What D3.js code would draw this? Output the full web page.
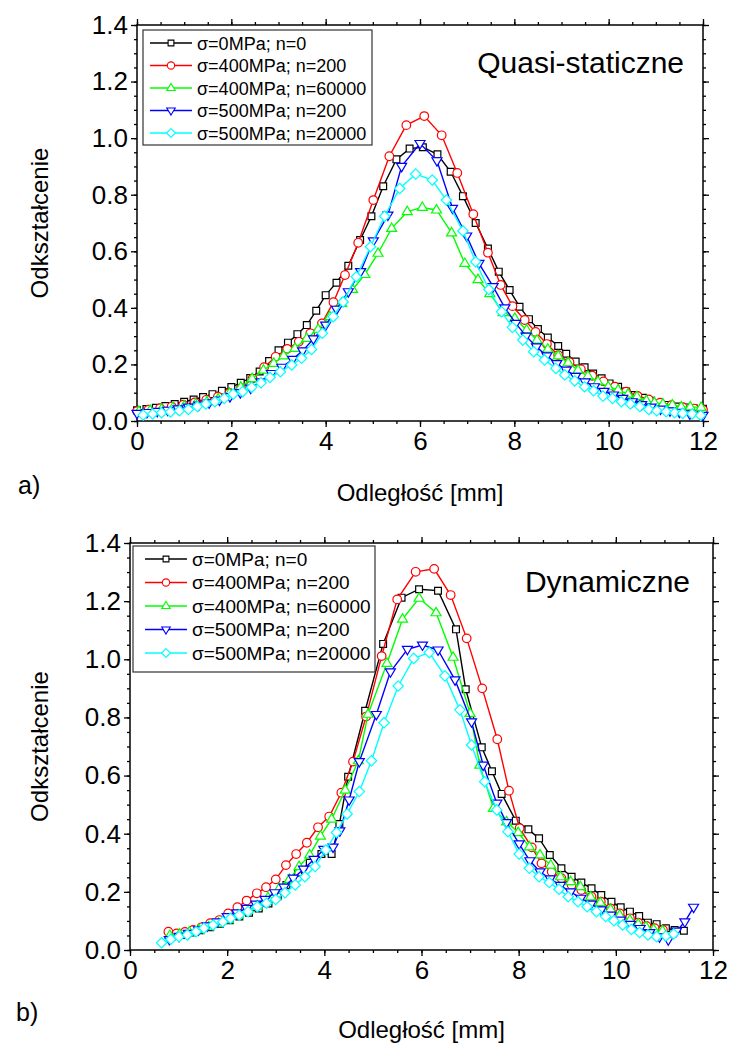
<!DOCTYPE html>
<html>
<head>
<meta charset="utf-8">
<script src="https://cdn.jsdelivr.net/npm/d3@7"></script>
<style>
  body { margin: 0; background: #fff; overflow: hidden; }
  text { font-family: "Liberation Sans", Arial, sans-serif; fill: #000; }
</style>
</head>
<body>
<script>
// ---------- DATA ----------
const seriesNames = ["σ=0MPa; n=0", "σ=400MPa; n=200", "σ=400MPa; n=60000", "σ=500MPa; n=200", "σ=500MPa; n=20000"];
const seriesColors = ["#000000", "#ff0000", "#00ff00", "#0000ff", "#00ffff"];
const seriesSymbols = ["square", "circle", "triUp", "triDown", "diamond"];

const xTicks = [0, 2, 4, 6, 8, 10, 12];
const yTicks = [0.0, 0.2, 0.4, 0.6, 0.8, 1.0, 1.2, 1.4];

// a) Quasi-statyczne  [x mm, strain]
const quasiS0 = [[0,0.038],[0.2,0.042],[0.4,0.047],[0.6,0.053],[0.8,0.060],[1.0,0.068],[1.2,0.076],[1.4,0.085],[1.6,0.095],[1.8,0.107],[2.0,0.120],[2.2,0.135],[2.4,0.152],[2.6,0.175],[2.8,0.212],[3.0,0.250],[3.2,0.277],[3.4,0.307],[3.6,0.339],[3.8,0.390],[4.0,0.445],[4.23,0.489],[4.48,0.549],[4.73,0.640],[4.97,0.724],[5.22,0.830],[5.5,0.925],[5.78,0.963],[6.06,0.968],[6.37,0.943],[6.65,0.881],[6.91,0.795],[7.18,0.700],[7.44,0.610],[7.67,0.528],[7.9,0.463],[8.11,0.404],[8.31,0.360],[8.5,0.325],[8.71,0.295],[8.93,0.265],[9.1,0.238],[9.3,0.210],[9.49,0.190],[9.67,0.168],[9.85,0.151],[10.02,0.133],[10.2,0.121],[10.37,0.104],[10.55,0.092],[10.73,0.082],[10.9,0.072],[11.07,0.062],[11.26,0.057],[11.44,0.051],[11.62,0.048],[11.8,0.045],[12.0,0.043]];
const quasiS1 = [[0,0.035],[0.245,0.040],[0.49,0.045],[0.735,0.051],[0.98,0.058],[1.225,0.066],[1.47,0.075],[1.715,0.086],[1.96,0.099],[2.205,0.116],[2.45,0.150],[2.695,0.190],[2.94,0.227],[3.185,0.255],[3.43,0.280],[3.675,0.310],[3.92,0.345],[4.165,0.420],[4.41,0.516],[4.69,0.630],[5.01,0.781],[5.35,0.936],[5.71,1.046],[6.09,1.078],[6.46,1.010],[6.79,0.877],[7.13,0.731],[7.44,0.595],[7.71,0.481],[7.96,0.406],[8.22,0.357],[8.45,0.315],[8.69,0.272],[8.93,0.233],[9.17,0.208],[9.41,0.183],[9.65,0.160],[9.89,0.140],[10.13,0.121],[10.37,0.104],[10.61,0.089],[10.85,0.076],[11.09,0.065],[11.33,0.056],[11.57,0.049],[11.81,0.044],[12.0,0.040]];
const quasiS2 = [[0.04,0.034],[0.28,0.038],[0.52,0.042],[0.76,0.047],[1.0,0.053],[1.24,0.060],[1.48,0.068],[1.72,0.078],[1.96,0.098],[2.2,0.120],[2.44,0.150],[2.68,0.180],[2.9,0.204],[3.11,0.230],[3.35,0.257],[3.6,0.292],[3.84,0.324],[4.09,0.369],[4.34,0.416],[4.57,0.465],[4.83,0.518],[5.11,0.593],[5.4,0.681],[5.73,0.740],[6.05,0.755],[6.35,0.746],[6.67,0.665],[6.95,0.557],[7.23,0.500],[7.48,0.450],[7.76,0.383],[8.01,0.363],[8.26,0.322],[8.48,0.286],[8.71,0.254],[8.93,0.230],[9.14,0.206],[9.35,0.180],[9.56,0.159],[9.77,0.139],[9.99,0.121],[10.2,0.110],[10.41,0.095],[10.6,0.086],[10.8,0.072],[10.97,0.065],[11.15,0.060],[11.35,0.057],[11.54,0.050],[11.73,0.050],[11.96,0.048]];
const quasiS3 = [[0.0,0.027],[0.21,0.030],[0.43,0.034],[0.65,0.038],[0.87,0.043],[1.09,0.049],[1.31,0.056],[1.53,0.064],[1.75,0.074],[1.97,0.086],[2.19,0.100],[2.41,0.116],[2.63,0.138],[2.85,0.168],[3.07,0.190],[3.3,0.218],[3.51,0.248],[3.74,0.290],[4.0,0.339],[4.23,0.395],[4.48,0.457],[4.74,0.528],[5.01,0.637],[5.32,0.728],[5.61,0.900],[6.0,0.981],[6.36,0.920],[6.69,0.752],[6.99,0.654],[7.25,0.557],[7.55,0.475],[7.8,0.400],[8.03,0.345],[8.25,0.300],[8.47,0.262],[8.69,0.230],[8.9,0.203],[9.1,0.180],[9.3,0.158],[9.5,0.138],[9.7,0.121],[9.9,0.105],[10.1,0.092],[10.3,0.080],[10.5,0.068],[10.7,0.058],[10.9,0.049],[11.1,0.042],[11.3,0.036],[11.5,0.031],[11.72,0.025],[12.0,0.020]];
const quasiS4 = [[0.13,0.021],[0.33,0.025],[0.52,0.029],[0.71,0.032],[0.9,0.036],[1.09,0.041],[1.28,0.051],[1.46,0.060],[1.65,0.068],[1.85,0.080],[2.04,0.095],[2.24,0.104],[2.43,0.119],[2.63,0.135],[2.82,0.154],[3.04,0.174],[3.28,0.198],[3.49,0.222],[3.7,0.253],[3.93,0.310],[4.16,0.369],[4.37,0.421],[4.65,0.510],[4.95,0.616],[5.25,0.724],[5.57,0.822],[5.91,0.873],[6.26,0.852],[6.56,0.781],[6.91,0.672],[7.18,0.563],[7.46,0.465],[7.73,0.386],[7.96,0.331],[8.18,0.286],[8.41,0.245],[8.64,0.216],[8.88,0.186],[9.07,0.163],[9.28,0.142],[9.49,0.121],[9.68,0.107],[9.88,0.088],[10.08,0.080],[10.27,0.068],[10.46,0.060],[10.66,0.051],[10.85,0.041],[11.02,0.036],[11.22,0.033],[11.4,0.029],[11.57,0.027],[11.77,0.025],[11.95,0.020]];

// b) Dynamiczne
const dynS0 = [[0.85,0.045],[1.05,0.052],[1.25,0.060],[1.45,0.068],[1.65,0.078],[1.85,0.090],[2.05,0.102],[2.25,0.115],[2.45,0.128],[2.65,0.143],[2.85,0.160],[3.04,0.185],[3.22,0.224],[3.46,0.266],[3.7,0.300],[3.94,0.330],[4.15,0.330],[4.31,0.433],[4.49,0.596],[4.84,0.823],[5.21,1.053],[5.59,1.212],[5.95,1.241],[6.34,1.236],[6.71,1.103],[6.91,0.897],[7.24,0.697],[7.45,0.615],[7.65,0.537],[7.94,0.445],[8.2,0.415],[8.42,0.384],[8.64,0.327],[8.88,0.281],[9.09,0.252],[9.29,0.232],[9.5,0.212],[9.7,0.189],[9.91,0.166],[10.1,0.147],[10.29,0.132],[10.48,0.117],[10.66,0.094],[10.84,0.089],[11.03,0.075],[11.21,0.069],[11.4,0.066]];
const dynS1 = [[0.79,0.063],[0.96,0.057],[1.13,0.062],[1.3,0.069],[1.47,0.078],[1.65,0.092],[1.84,0.103],[2.02,0.126],[2.21,0.147],[2.4,0.170],[2.61,0.195],[2.8,0.216],[3.0,0.243],[3.21,0.292],[3.42,0.330],[3.64,0.369],[3.87,0.422],[4.1,0.459],[4.35,0.541],[4.59,0.648],[4.86,0.803],[5.18,1.011],[5.5,1.206],[5.88,1.301],[6.26,1.311],[6.6,1.221],[6.93,1.072],[7.25,0.900],[7.56,0.725],[7.8,0.548],[8.02,0.419],[8.27,0.353],[8.47,0.298],[8.68,0.269],[8.88,0.247],[9.09,0.224],[9.29,0.206],[9.5,0.183],[9.69,0.166],[9.89,0.143],[10.08,0.126],[10.29,0.109],[10.46,0.094],[10.63,0.083],[10.8,0.075],[10.97,0.069]];
const dynS2 = [[0.82,0.050],[1.02,0.055],[1.22,0.062],[1.42,0.070],[1.62,0.080],[1.82,0.092],[2.02,0.105],[2.22,0.120],[2.42,0.135],[2.62,0.152],[2.84,0.180],[3.07,0.212],[3.28,0.243],[3.48,0.287],[3.7,0.327],[3.92,0.392],[4.15,0.450],[4.43,0.550],[4.7,0.651],[4.9,0.811],[5.29,0.986],[5.61,1.138],[5.95,1.210],[6.3,1.160],[6.65,1.007],[7.0,0.814],[7.2,0.636],[7.48,0.487],[7.75,0.441],[7.99,0.404],[8.22,0.355],[8.44,0.327],[8.66,0.292],[8.86,0.252],[9.07,0.235],[9.27,0.218],[9.48,0.183],[9.68,0.163],[9.89,0.140],[10.08,0.120],[10.29,0.103],[10.46,0.089],[10.62,0.080],[10.78,0.071],[10.96,0.066]];
const dynS3 = [[0.81,0.036],[1.01,0.047],[1.2,0.057],[1.41,0.069],[1.59,0.083],[1.8,0.097],[2.0,0.115],[2.2,0.128],[2.4,0.143],[2.59,0.158],[2.78,0.174],[2.98,0.197],[3.17,0.216],[3.36,0.247],[3.57,0.278],[3.79,0.312],[3.99,0.346],[4.18,0.354],[4.32,0.410],[4.51,0.516],[4.72,0.648],[5.07,0.810],[5.36,0.957],[5.71,1.034],[6.02,1.049],[6.34,1.032],[6.69,0.929],[7.03,0.785],[7.27,0.636],[7.55,0.505],[7.75,0.438],[8.01,0.365],[8.23,0.307],[8.44,0.269],[8.65,0.245],[8.86,0.222],[9.07,0.200],[9.28,0.178],[9.49,0.158],[9.7,0.138],[9.9,0.120],[10.1,0.103],[10.3,0.088],[10.5,0.074],[10.7,0.060],[10.9,0.045],[11.08,0.035],[11.25,0.065],[11.42,0.097],[11.6,0.147]];
const dynS4 = [[0.65,0.025],[0.84,0.037],[1.01,0.046],[1.18,0.052],[1.36,0.063],[1.52,0.075],[1.71,0.086],[1.91,0.097],[2.07,0.109],[2.25,0.120],[2.43,0.132],[2.62,0.149],[2.81,0.161],[3.0,0.174],[3.19,0.197],[3.4,0.224],[3.6,0.252],[3.81,0.287],[4.03,0.344],[4.25,0.404],[4.47,0.468],[4.72,0.545],[4.97,0.651],[5.23,0.782],[5.52,0.908],[5.84,1.003],[6.16,1.023],[6.48,0.943],[6.79,0.826],[7.03,0.705],[7.3,0.579],[7.55,0.482],[7.78,0.407],[8.01,0.330],[8.22,0.281],[8.42,0.252],[8.63,0.232],[8.83,0.209],[9.02,0.183],[9.22,0.166],[9.41,0.149],[9.6,0.132],[9.79,0.115],[9.96,0.101],[10.14,0.086],[10.32,0.071],[10.49,0.060],[10.66,0.052],[10.84,0.046],[11.03,0.048],[11.19,0.055]];

// ---------- LAYOUT ----------
const W = 733, H = 1044;
const svg = d3.select("body").append("svg")
    .attr("width", W)
    .attr("height", H);
svg.append("rect").attr("width", W).attr("height", H).attr("fill", "#fff");

const panels = [
    {
        box: {left: 137, right: 703, top: 25, bottom: 421},
        series: [quasiS0, quasiS1, quasiS2, quasiS3, quasiS4],
        legend: {x: 143, y: 30, w: 229, h: 115, row: 22.5, lineX: 150, lineW: 42, textX: 197, font: 18},
        note: {text: "Quasi-staticzne", x: 684, y: 73},
        tag: {text: "a)", x: 18, y: 494},
        xTitleY: 501
    },
    {
        box: {left: 130, right: 713, top: 543, bottom: 950},
        series: [dynS0, dynS1, dynS2, dynS3, dynS4],
        legend: {x: 133, y: 546, w: 242, h: 126, row: 23.5, lineX: 145, lineW: 42, textX: 192, font: 19},
        note: {text: "Dynamiczne", x: 690, y: 592},
        tag: {text: "b)", x: 16, y: 1021},
        xTitleY: 1038
    }
];

function markerPath(kind) {
    switch (kind) {
        case "square": return "M-3.4,-3.4H3.4V3.4H-3.4Z";
        case "circle": return d3.symbol(d3.symbolCircle, Math.PI * 4.3 * 4.3)();
        case "triUp": return "M0,-5.4L5,3L-5,3Z";
        case "triDown": return "M0,5.4L5,-3L-5,-3Z";
        case "diamond": return "M0,-5.2L5.2,0L0,5.2L-5.2,0Z";
    }
}

function drawPanel(p) {
    const b = p.box;
    const x = d3.scaleLinear().domain([0, 12]).range([b.left, b.right]);
    const y = d3.scaleLinear().domain([0, 1.4]).range([b.bottom, b.top]);
    const g = svg.append("g");

    // minor ticks (every 0.5 mm / 0.05)
    const xMinor = d3.range(0, 12.001, 0.5);
    const yMinor = d3.range(0, 1.4001, 0.05);

    const axisStyle = sel => {
        sel.select(".domain").remove();
        sel.selectAll("line").attr("stroke", "#000").attr("stroke-width", 1.3);
    };

    g.append("g").attr("transform", `translate(0,${b.bottom})`)
        .call(d3.axisBottom(x).tickValues(xMinor).tickSize(3).tickFormat("")).call(axisStyle);
    g.append("g").attr("transform", `translate(0,${b.top})`)
        .call(d3.axisTop(x).tickValues(xMinor).tickSize(3).tickFormat("")).call(axisStyle);
    g.append("g").attr("transform", `translate(${b.left},0)`)
        .call(d3.axisLeft(y).tickValues(yMinor).tickSize(3).tickFormat("")).call(axisStyle);
    g.append("g").attr("transform", `translate(${b.right},0)`)
        .call(d3.axisRight(y).tickValues(yMinor).tickSize(3).tickFormat("")).call(axisStyle);

    // major ticks with labels
    const xAx = g.append("g").attr("transform", `translate(0,${b.bottom})`)
        .call(d3.axisBottom(x).tickValues(xTicks).tickSize(6).tickPadding(5).tickFormat(d3.format("d")))
        .call(axisStyle);
    xAx.selectAll("text").attr("font-size", 26).attr("font-family", '"Liberation Sans", Arial, sans-serif').attr("fill", "#000");
    const yAx = g.append("g").attr("transform", `translate(${b.left},0)`)
        .call(d3.axisLeft(y).tickValues(yTicks).tickSize(6).tickPadding(3).tickFormat(d3.format(".1f")))
        .call(axisStyle);
    yAx.selectAll("text").attr("font-size", 26).attr("font-family", '"Liberation Sans", Arial, sans-serif').attr("fill", "#000");
    g.append("g").attr("transform", `translate(0,${b.top})`)
        .call(d3.axisTop(x).tickValues(xTicks).tickSize(6).tickFormat("")).call(axisStyle);
    g.append("g").attr("transform", `translate(${b.right},0)`)
        .call(d3.axisRight(y).tickValues(yTicks).tickSize(6).tickFormat("")).call(axisStyle);

    // frame
    g.append("rect")
        .attr("x", b.left).attr("y", b.top)
        .attr("width", b.right - b.left).attr("height", b.bottom - b.top)
        .attr("fill", "none").attr("stroke", "#000").attr("stroke-width", 1.5);

    // series
    const line = d3.line().x(d => x(d[0])).y(d => y(d[1]));
    p.series.forEach((data, i) => {
        const sg = g.append("g");
        sg.append("path")
            .datum(data)
            .attr("d", line)
            .attr("fill", "none")
            .attr("stroke", seriesColors[i])
            .attr("stroke-width", 1.4);
        sg.selectAll("path.mk")
            .data(data)
            .join("path")
            .attr("class", "mk")
            .attr("d", markerPath(seriesSymbols[i]))
            .attr("transform", d => `translate(${x(d[0])},${y(d[1])})`)
            .attr("fill", "#fff")
            .attr("stroke", seriesColors[i])
            .attr("stroke-width", 1.2);
    });

    // legend
    const L = p.legend;
    const lg = g.append("g");
    lg.append("rect")
        .attr("x", L.x).attr("y", L.y).attr("width", L.w).attr("height", L.h)
        .attr("fill", "#fff").attr("stroke", "#333").attr("stroke-width", 1.2);
    seriesNames.forEach((name, i) => {
        const cy = L.y + 13 + i * L.row;
        lg.append("line")
            .attr("x1", L.lineX).attr("x2", L.lineX + L.lineW)
            .attr("y1", cy).attr("y2", cy)
            .attr("stroke", seriesColors[i]).attr("stroke-width", 1.4);
        lg.append("path")
            .attr("d", markerPath(seriesSymbols[i]))
            .attr("transform", `translate(${L.lineX + L.lineW / 2},${cy}) scale(0.85)`)
            .attr("fill", "#fff").attr("stroke", seriesColors[i]).attr("stroke-width", 1.3);
        lg.append("text")
            .attr("x", L.textX).attr("y", cy + 6.5)
            .attr("font-size", L.font)
            .text(name);
    });

    // annotation and titles
    g.append("text").attr("x", p.note.x).attr("y", p.note.y)
        .attr("text-anchor", "end").attr("font-size", 30).text(p.note.text);
    g.append("text").attr("x", p.tag.x).attr("y", p.tag.y)
        .attr("font-size", 25).text(p.tag.text);
    g.append("text")
        .attr("x", (b.left + b.right) / 2).attr("y", p.xTitleY)
        .attr("text-anchor", "middle").attr("font-size", 24)
        .text("Odległość [mm]");
    g.append("text")
        .attr("transform", `translate(48,${(b.top + b.bottom) / 2}) rotate(-90)`)
        .attr("text-anchor", "middle").attr("font-size", 24)
        .text("Odkształcenie");
}

panels.forEach(drawPanel);
</script>
</body>
</html>
